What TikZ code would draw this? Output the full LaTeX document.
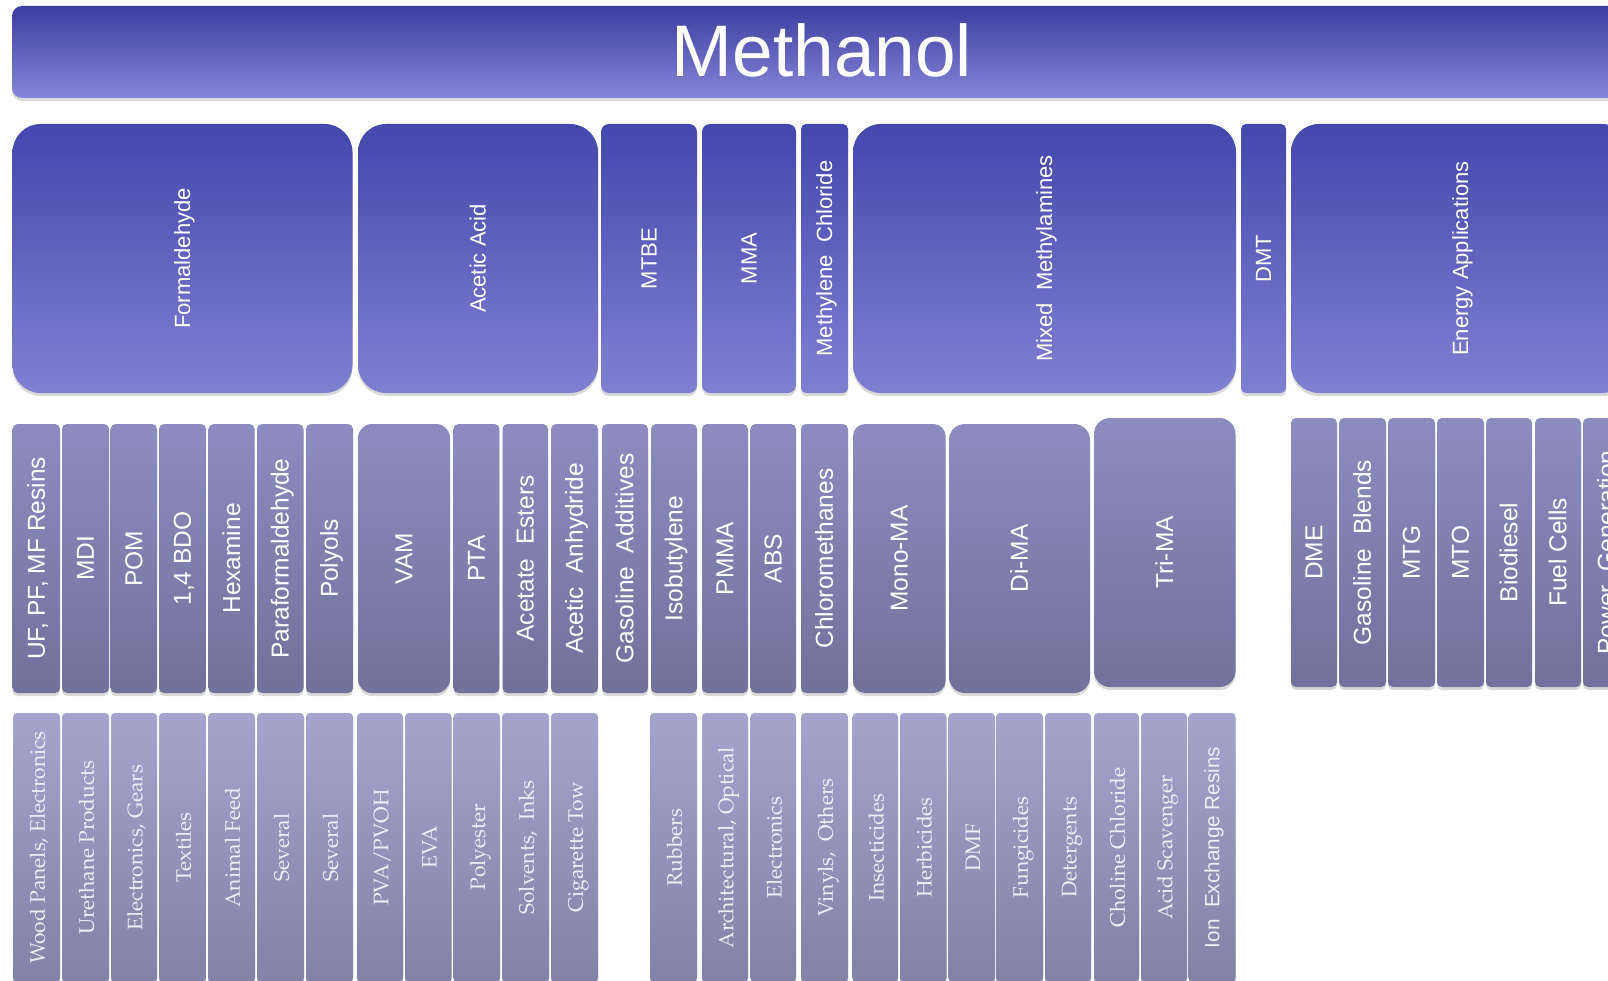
\documentclass[tikz,border=0pt]{standalone}
\usepackage[T1]{fontenc}
\usepackage{fontspec}
\setmainfont{Liberation Sans}
\newcommand\palfont{\fontencoding{T1}\fontfamily{ppl}\selectfont}
\usetikzlibrary{shadows}
\definecolor{tTop}{RGB}{60,62,160}
\definecolor{tBot}{RGB}{134,133,216}
\definecolor{aTop}{RGB}{68,71,172}
\definecolor{aBot}{RGB}{128,128,210}
\definecolor{bTop}{RGB}{140,140,192}
\definecolor{bBot}{RGB}{114,113,155}
\definecolor{cTop}{RGB}{164,164,205}
\definecolor{cBot}{RGB}{130,130,166}
\definecolor{cTxt}{RGB}{238,238,246}
\tikzset{
  box/.style={inner sep=0pt, outer sep=0pt, anchor=north west,
    drop shadow={shadow xshift=0pt, shadow yshift=-3pt, opacity=0.15, fill=black}},
  boxT/.style={box, top color=tTop, bottom color=tBot},
  boxA/.style={box, top color=aTop, bottom color=aBot},
  boxB/.style={box, top color=bTop, bottom color=bBot},
  boxC/.style={box, top color=cTop, bottom color=cBot},
  txt/.style={rotate=90, inner sep=0pt, outer sep=0pt, anchor=center, text=white},
  txtA/.style={txt, font=\fontsize{22}{26}\selectfont, text height=19.8pt, text depth=4.6pt},
  txtB/.style={txt, font=\fontsize{24.5}{29}\selectfont, text height=22pt, text depth=5.1pt},
  txtC/.style={txt, font=\fontsize{21}{25}\palfont, text=cTxt, text height=21pt, text depth=4.2pt},
  txtCs/.style={txt, font=\fontsize{20.7}{25}\selectfont, text=cTxt, text height=18.6pt, text depth=4.3pt},
  titletxt/.style={inner sep=0pt, text=white, font=\fontsize{73}{85}\selectfont, text height=66pt, text depth=15pt},
}
% name, level, x0, y0, x1, y1, radius, text
\newcommand\bx[8]{%
  \node[box#2, rounded corners=#7pt, minimum width={#5-#3}, minimum height={#6-#4}] (#1) at (#3,#4) {};
  \node[txt#2] (#1-t) at (#1.center) {#8};}
\newcommand\bxs[8]{%
  \node[box#2, rounded corners=#7pt, minimum width={#5-#3}, minimum height={#6-#4}] (#1) at (#3,#4) {};
  \node[txtCs] (#1-t) at (#1.center) {#8};}
\begin{document}
\begin{tikzpicture}[x=1pt, y=-1pt]
\useasboundingbox (0,0) rectangle (1608,981);
\fill[white] (0,0) rectangle (1608,981);
\clip (0,0) rectangle (1608,981);
% title bar
\node[boxT, rounded corners=10pt, minimum width=1620, minimum height=92] (bar) at (12,6) {};
\node[titletxt] (title) at (822,51) {Methanol};
% level 1
\bx{formal}{A}{12.6}{124}{352.5}{393}{28}{Formaldehyde}
\bx{acetic}{A}{358}{124}{598}{393}{28}{Acetic Acid}
\bx{mtbe}{A}{601}{124}{697}{393}{8}{MTBE}
\bx{mma}{A}{702}{124}{796}{393}{8}{MMA}
\bx{mecl}{A}{801}{124}{848}{393}{5}{Methylene~~Chloride}
\bx{mixed}{A}{853}{124}{1236}{393}{28}{Mixed~~Methylamines}
\bx{dmt}{A}{1241}{124}{1286}{393}{5}{DMT}
\bx{energy}{A}{1291}{124}{1630}{393}{28}{Energy Applications}
% level 2
\bx{uf}{B}{12.6}{424}{60}{693}{5}{UF, PF, MF Resins}
\bx{mdi}{B}{62}{424}{109}{693}{5}{MDI}
\bx{pom}{B}{110.6}{424}{157}{693}{5}{POM}
\bx{bdo}{B}{159}{424}{206}{693}{5}{1,4 BDO}
\bx{hex}{B}{208.6}{424}{254.5}{693}{5}{Hexamine}
\bx{para}{B}{257}{424}{303.5}{693}{5}{Paraformaldehyde}
\bx{poly}{B}{306}{424}{353}{693}{5}{Polyols}
\bx{vam}{B}{358}{424}{450}{693}{14}{VAM}
\bx{pta}{B}{453.5}{424}{499.4}{693}{5}{PTA}
\bx{aest}{B}{502.5}{424}{548}{693}{5}{Acetate~~Esters}
\bx{aanh}{B}{551}{424}{598}{693}{5}{Acetic~~Anhydride}
\bx{gadd}{B}{602}{424}{648}{693}{5}{Gasoline~~Additives}
\bx{isob}{B}{651}{424}{697}{693}{5}{Isobutylene}
\bx{pmma}{B}{702}{424}{748}{693}{5}{PMMA}
\bx{abs}{B}{750.5}{424}{796}{693}{5}{ABS}
\bx{chlm}{B}{801}{424}{848}{693}{5}{Chloromethanes}
\bx{mono}{B}{853}{424}{945.5}{693}{12}{Mono-MA}
\bx{dima}{B}{949}{424}{1090}{693}{16}{Di-MA}
\bx{trima}{B}{1094}{418}{1235.5}{687}{16}{Tri-MA}
\bx{dme}{B}{1291}{418}{1337}{687}{5}{DME}
\bx{gbl}{B}{1339}{418}{1386}{687}{5}{Gasoline~~Blends}
\bx{mtg}{B}{1388}{418}{1435}{687}{5}{MTG}
\bx{mto}{B}{1437}{418}{1484}{687}{5}{MTO}
\bx{biod}{B}{1486}{418}{1532}{687}{5}{Biodiesel}
\bx{fuel}{B}{1535}{418}{1581}{687}{5}{Fuel Cells}
\bx{power}{B}{1583}{418}{1630}{687}{5}{Power~~Generation}
% level 3
\bx{wood}{C}{13}{713}{60}{982}{4}{Wood Panels, Electronics}
\bx{ureth}{C}{62}{713}{109}{982}{4}{Urethane Products}
\bx{elecg}{C}{111}{713}{157}{982}{4}{Electronics, Gears}
\bx{texti}{C}{159}{713}{206}{982}{4}{Textiles}
\bx{anim}{C}{208}{713}{255}{982}{4}{Animal Feed}
\bx{sev1}{C}{257}{713}{304}{982}{4}{Several}
\bx{sev2}{C}{306}{713}{353}{982}{4}{Several}
\bx{pva}{C}{357}{713}{403}{982}{4}{PVA/PVOH}
\bx{eva}{C}{405}{713}{451.5}{982}{4}{EVA}
\bx{polyest}{C}{453.5}{713}{500}{982}{4}{Polyester}
\bx{solv}{C}{502}{713}{549}{982}{4}{Solvents,~~Inks}
\bx{cig}{C}{551}{713}{598}{982}{4}{Cigarette Tow}
\bx{rubb}{C}{650}{713}{697}{982}{4}{Rubbers}
\bx{arch}{C}{702}{713}{748}{982}{4}{Architectural, Optical}
\bx{elec}{C}{750.5}{713}{796}{982}{4}{Electronics}
\bx{viny}{C}{801}{713}{848}{982}{4}{Vinyls,~~Others}
\bx{insect}{C}{852.5}{713}{898}{982}{4}{Insecticides}
\bx{herb}{C}{900}{713}{946.6}{982}{4}{Herbicides}
\bx{dmf}{C}{948.6}{713}{995}{982}{4}{DMF}
\bx{fung}{C}{996}{713}{1043}{982}{4}{Fungicides}
\bx{deterg}{C}{1045}{713}{1091}{982}{4}{Detergents}
\bx{chol}{C}{1094}{713}{1139}{982}{4}{Choline Chloride}
\bx{acid}{C}{1141}{713}{1187}{982}{4}{Acid Scavenger}
\bxs{ion}{C}{1188.6}{713}{1235.6}{982}{4}{Ion~~Exchange Resins}
\end{tikzpicture}
\end{document}
